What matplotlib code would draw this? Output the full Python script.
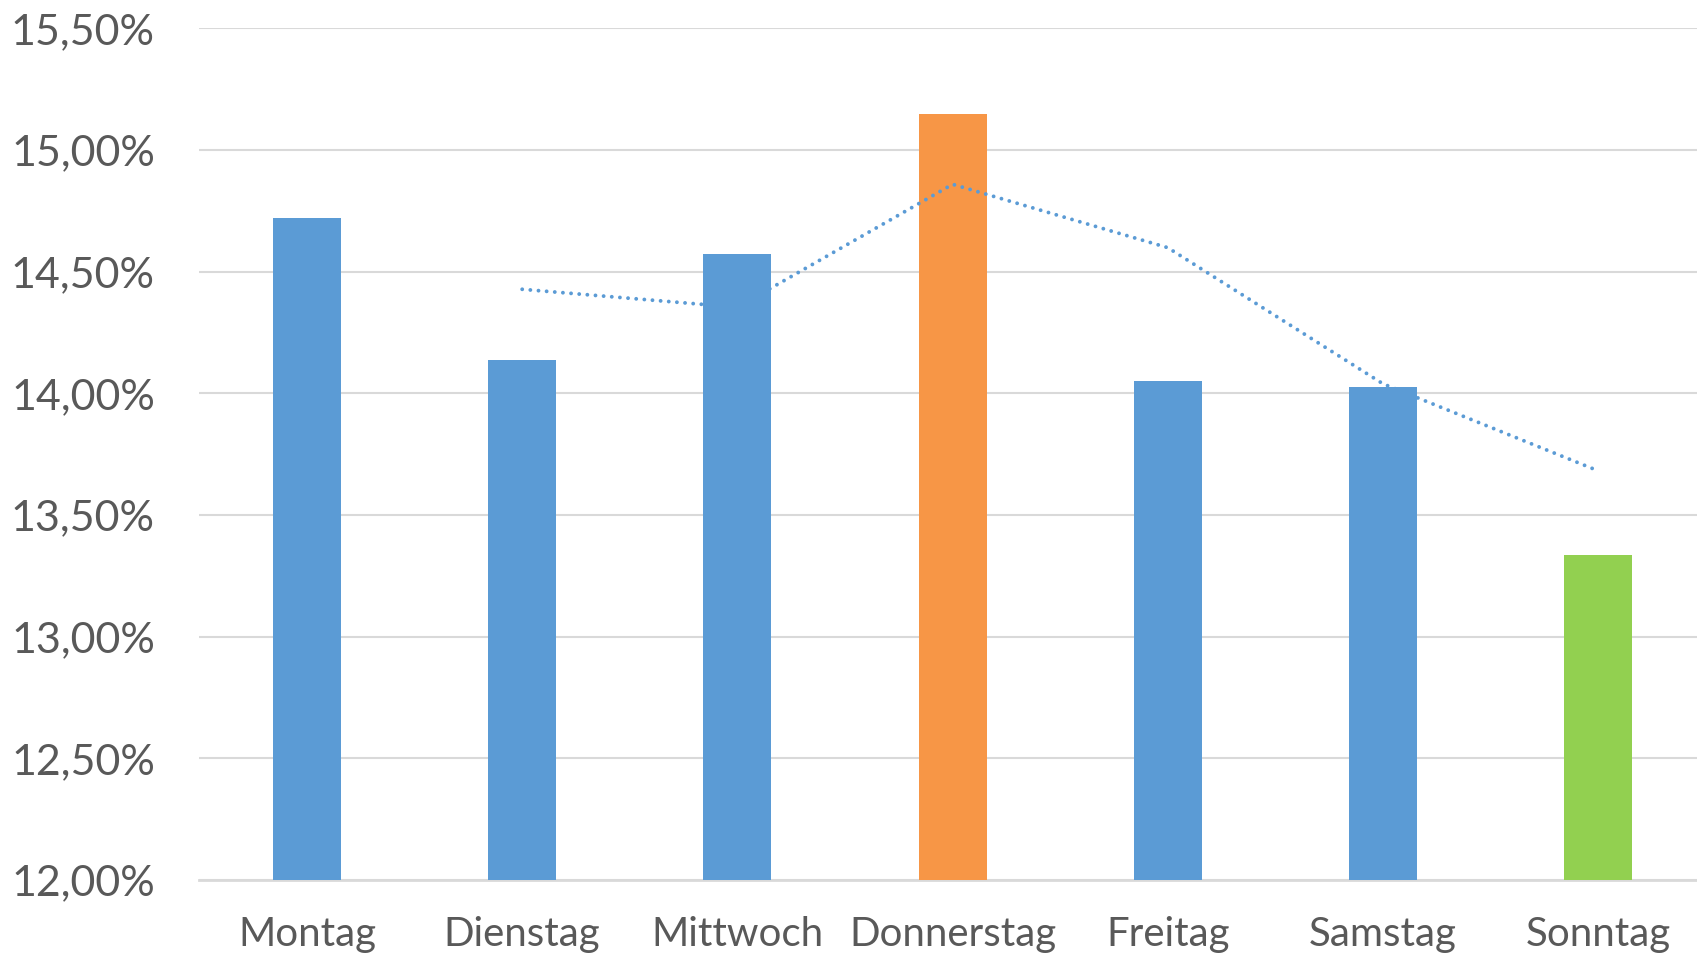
import matplotlib
matplotlib.use("Agg")
import matplotlib.pyplot as plt
import numpy as np
import pandas as pd
from matplotlib.ticker import FuncFormatter

# Share of events per weekday (percent)
days = ["Montag", "Dienstag", "Mittwoch", "Donnerstag", "Freitag", "Samstag", "Sonntag"]
shares = [14.719, 14.136, 14.571, 15.147, 14.050, 14.028, 13.335]
bar_colors = ["#5B9BD5", "#5B9BD5", "#5B9BD5", "#F79646", "#5B9BD5", "#5B9BD5", "#92D050"]
y_ticks = [12.0, 12.5, 13.0, 13.5, 14.0, 14.5, 15.0, 15.5]

# Two-period moving-average trendline of the bar values
trend = pd.Series(shares).rolling(2).mean()

W, H = 1697, 958
fig = plt.figure(figsize=(W / 100, H / 100), dpi=100)
fig.patch.set_facecolor("white")

cat_w = 215.2
left_px = 199.4
top_px, bottom_px = 28.3, 880.0
ax = fig.add_axes([left_px / W, (H - bottom_px) / H,
                   7 * cat_w / W, (bottom_px - top_px) / H])

x = np.arange(len(days))
ax.bar(x, shares, width=0.316, color=bar_colors, zorder=2)
ax.plot(x[1:], trend.values[1:], color="#5B9BD5", linewidth=2.8,
        dashes=(0.001, 2.1), dash_capstyle="round", zorder=3)

ax.set_xlim(-0.5, len(days) - 0.5)
ax.set_ylim(12.0, 15.5)
ax.set_yticks(y_ticks)
ax.yaxis.set_major_formatter(FuncFormatter(lambda v, _: f"{v:.2f}".replace(".", ",") + "%"))
ax.set_xticks(x)
ax.set_xticklabels(days)

ax.grid(axis="y", color="#D9D9D9", linewidth=1.5, zorder=0)
ax.set_axisbelow(True)
for side in ["top", "right", "left"]:
    ax.spines[side].set_visible(False)
ax.spines["bottom"].set_color("#D9D9D9")
ax.spines["bottom"].set_linewidth(2)
ax.spines["bottom"].set_zorder(1)

ax.tick_params(axis="both", length=0)
ax.tick_params(axis="y", pad=32, labelsize=31, labelcolor="#595959")
ax.tick_params(axis="x", pad=26, labelsize=29, labelcolor="#595959")
for lab in ax.get_xticklabels() + ax.get_yticklabels():
    lab.set_fontfamily("Lato")

fig.savefig("out.png", dpi=100, facecolor="white")
